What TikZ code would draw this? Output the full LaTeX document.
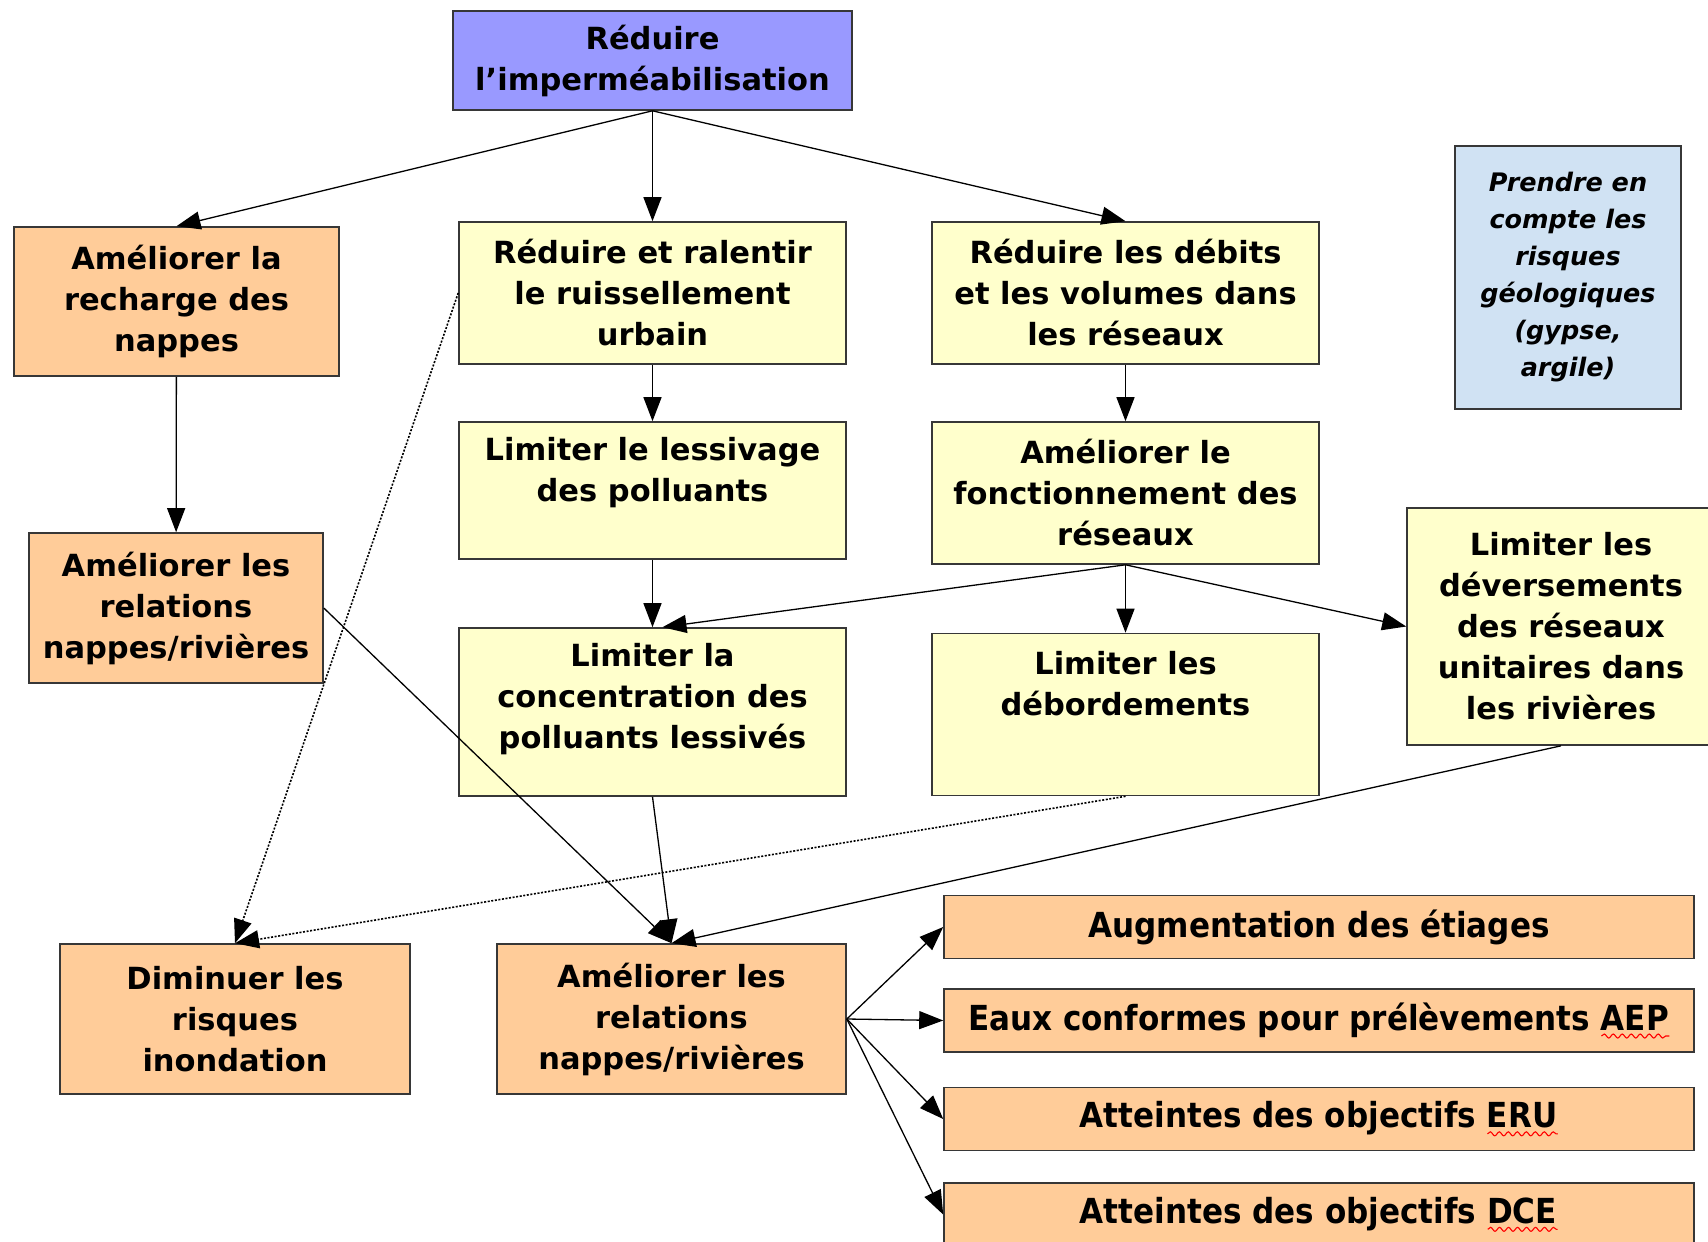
\documentclass[tikz,border=0pt]{standalone}
\usepackage{fontspec}
\setmainfont{DejaVu Sans}
\newfontfamily\narrowfont{DejaVu Sans}[FakeStretch=0.9]
\usepackage{tikz}
\usetikzlibrary{arrows.meta,positioning,decorations.pathmorphing}
\definecolor{boxviolet}{RGB}{153,153,255}
\definecolor{boxorange}{RGB}{255,204,153}
\definecolor{boxjaune}{RGB}{255,255,204}
\definecolor{boxciel}{RGB}{208,226,243}
\definecolor{trait}{RGB}{55,55,55}
% soulignement ondule rouge (correcteur)
\newsavebox\fautebox
\newcommand\faute[1]{\sbox\fautebox{#1}\rlap{\usebox\fautebox}\tikz[baseline=0pt]\draw[red,line width=1.1pt,decorate,decoration={snake,amplitude=2pt,segment length=9pt}] (0pt,-6pt) -- (\wd\fautebox,-6pt);}

\begin{document}
\begin{tikzpicture}[x=1pt,y=-1pt,% styles communs
					every node/.style={
						align=center,		% pour les "\\"
						rectangle, draw=trait, line width=1.6pt, inner sep=0pt,
						font=\fontsize{30.5}{41}\selectfont\bfseries
						},
					every edge/.style={draw,line width=1.3pt},
					>={Triangle[length=24pt,width=18pt]},
					dim/.style 2 args={minimum width=#1,minimum height=#2},
					violet/.style={fill=boxviolet},
					orange/.style={fill=boxorange},
					jaune/.style={fill=boxjaune},
					ciel/.style={fill=boxciel,font=\fontsize{25.5}{37}\selectfont\bfseries\itshape},
					objectif/.style={fill=boxorange,dim={750}{63},font=\narrowfont\fontsize{34.5}{41}\selectfont\bfseries},
					pointille/.style={dash pattern=on 2pt off 1.6pt,line width=1.6pt}
					]
\useasboundingbox (0,0) rectangle (1708,1242);

\node[violet,dim={399}{99}](R0) at (652.5,60.5){Réduire\\l’imperméabilisation};
\node[orange,dim={325}{149}](A1) at (176.5,301.5){Améliorer la\\recharge des\\nappes};
\node[jaune,dim={387}{142}](B1) at (652.5,293){Réduire et ralentir\\le ruissellement\\urbain};
\node[jaune,dim={387}{142}](C1) at (1125.5,293){Réduire les débits\\et les volumes dans\\les réseaux};
\node[ciel,dim={226}{263}](N) at (1568,277.5){Prendre en\\compte les\\risques\\géologiques\\(gypse,\\argile)};

\node[orange,dim={294}{150}](A2) at (176,608){Améliorer les\\relations\\nappes/rivières};
\node[jaune,dim={387}{137},text depth=43pt](B2) at (652.5,490.5){Limiter le lessivage\\des polluants};
\node[jaune,dim={387}{142}](C2) at (1125.5,493){Améliorer le\\fonctionnement des\\réseaux};
\node[jaune,dim={387}{168},text depth=33pt](B3) at (652.5,712){Limiter la\\concentration des\\polluants lessivés};
\node[jaune,dim={387}{162},text depth=62pt](C3) at (1125.5,714.5){Limiter les\\débordements};
\node[jaune,dim={308}{237}](D3) at (1561,626.5){Limiter les\\déversements\\des réseaux\\unitaires dans\\les rivières};

\node[orange,dim={350}{150}](E) at (235,1019){Diminuer les\\risques\\inondation};
\node[orange,dim={349}{150}](F) at (671.5,1019){Améliorer les\\relations\\nappes/rivières};
\node[objectif](G1) at (1319,927){Augmentation des étiages};
\node[objectif](G2) at (1319,1020.5){Eaux conformes pour prélèvements \faute{AEP}};
\node[objectif](G3) at (1319,1119){Atteintes des objectifs \faute{ERU}};
\node[objectif](G4) at (1319,1214.5){Atteintes des objectifs \faute{DCE}};

\path[->]
(R0.south)edge (A1.north)
(R0.south)edge (B1.north)
(R0.south)edge (C1.north)
(A1)edge (A2)
(B1)edge (B2)
(C1)edge (C2)
(B2)edge (B3)
(C2.south)edge ([xshift=10pt]B3.north)
(C2)edge (C3)
(C2.south)edge (D3.west)
(A2.east)edge (F.north)
(B3.south)edge (F.north)
(D3.south)edge (F.north)
(F.east)edge (G1.west)
(F.east)edge (G2.west)
(F.east)edge (G3.west)
(F.east)edge (G4.west)
;
\path[->]
(B1.west)edge[pointille] (E.north)
(C3.south)edge[pointille] (E.north)
;
\end{tikzpicture}
\end{document}
